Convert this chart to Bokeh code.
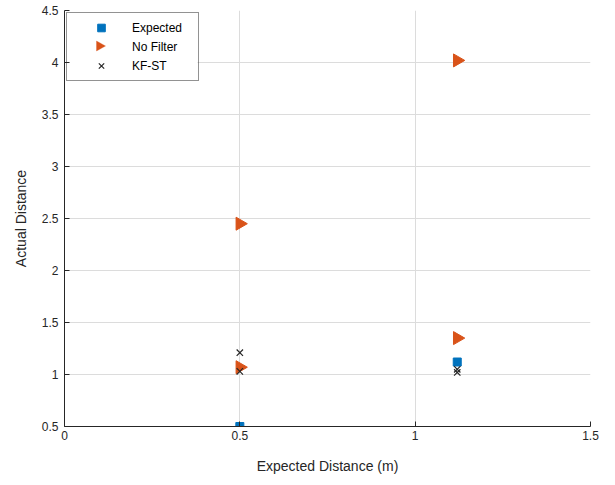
import math
from bokeh.plotting import figure
from bokeh.models import Range1d, FixedTicker, Legend, LegendItem, PolyAnnotation
from bokeh.embed import file_html
from bokeh.resources import INLINE

# Data
exp_x = [0.5, 1.12]
exp_y = [0.5, 1.12]
nf_x = [0.5, 0.5, 1.12, 1.12]
nf_y = [2.45, 1.07, 4.02, 1.35]
kf_x = [0.5, 0.5, 1.12, 1.12]
kf_y = [1.21, 1.03, 1.05, 1.02]

x_ticks = [0, 0.5, 1, 1.5]
y_ticks = [0.5, 1, 1.5, 2, 2.5, 3, 3.5, 4, 4.5]

FONT = "Liberation Sans"
BL, BT, BR, BB = 64, 10, 15, 54
FW, FH = 526, 416

p = figure(width=BL + FW + BR, height=BT + FH + BB, output_backend="svg", toolbar_location=None,
           x_range=Range1d(0, 1.5), y_range=Range1d(0.5, 4.5),
           min_border_left=BL, min_border_right=BR, min_border_top=BT, min_border_bottom=BB)
p.outline_line_color = None
p.background_fill_color = "white"
p.border_fill_color = "white"

for ax, ticks in ((p.xaxis[0], x_ticks), (p.yaxis[0], y_ticks)):
    ax.ticker = FixedTicker(ticks=ticks)
    ax.major_tick_in = 5
    ax.major_tick_out = 0
    ax.minor_tick_line_color = None
    ax.axis_line_color = "#262626"
    ax.major_tick_line_color = "#262626"
    ax.major_label_text_font = FONT
    ax.major_label_text_font_size = "12px"
    ax.major_label_text_color = "#262626"
    ax.axis_label_text_font = FONT
    ax.axis_label_text_font_size = "14px"
    ax.axis_label_text_font_style = "normal"
    ax.axis_label_text_color = "#262626"

p.xaxis.axis_label = "Expected Distance (m)"
p.yaxis.axis_label = "Actual Distance"
p.xaxis.major_label_overrides = {0: "0", 0.5: "0.5", 1: "1", 1.5: "1.5"}
p.yaxis.major_label_overrides = {0.5: "0.5", 1: "1", 1.5: "1.5", 2: "2", 2.5: "2.5", 3: "3",
                                 3.5: "3.5", 4: "4", 4.5: "4.5"}
p.xaxis.major_label_standoff = 4
p.yaxis.major_label_standoff = 6
p.xaxis.axis_label_standoff = 15
p.yaxis.axis_label_standoff = 10

p.grid.grid_line_color = "#dcdcdc"
p.grid.grid_line_alpha = 1.0

PAD, GW, ROWH, MARGIN, STANDOFF, LW = 5, 58, 19, 2, 2, 61
box_w = PAD + GW + STANDOFF + LW + PAD
box_h = 2 * PAD + 3 * ROWH

# white backing for the legend box (screen units are frame-relative, y measured from bottom)
backing = PolyAnnotation(xs=[MARGIN, MARGIN + box_w, MARGIN + box_w, MARGIN],
                         ys=[FH - MARGIN, FH - MARGIN, FH - MARGIN - box_h, FH - MARGIN - box_h],
                         xs_units="screen", ys_units="screen", level="underlay",
                         fill_color="white", fill_alpha=1.0, line_color=None)
p.add_layout(backing)

r_exp = p.scatter(exp_x, exp_y, marker="square", size=8, fill_color="#0072BD", line_color="#0072BD")
r_nf = p.scatter(nf_x, nf_y, marker="triangle", angle=-math.pi / 2, size=13,
                 fill_color="#D95319", line_color="#D95319")
r_kf = p.scatter(kf_x, kf_y, marker="x", size=9, line_color="#262626", line_width=1.2)
# invisible stand-in so the legend slot for "No Filter" is empty (legend ignores marker angle)
r_nf_leg = p.scatter([], [], marker="triangle", size=1, fill_alpha=0, line_alpha=0)

legend = Legend(items=[LegendItem(label="Expected", renderers=[r_exp]),
                       LegendItem(label="No Filter", renderers=[r_nf_leg]),
                       LegendItem(label="KF-ST", renderers=[r_kf])],
                location="top_left")
legend.label_text_font = FONT
legend.label_text_font_size = "12px"
legend.label_text_color = "#000000"
legend.border_line_color = "#262626"
legend.border_line_width = 1
legend.background_fill_alpha = 0.0
legend.margin = MARGIN
legend.padding = PAD
legend.spacing = 0
legend.glyph_width = GW
legend.glyph_height = ROWH
legend.label_height = ROWH
legend.label_standoff = STANDOFF
legend.label_width = LW
p.add_layout(legend)

# right-pointing triangle legend glyph
cx = MARGIN + PAD + GW / 2
cy = FH - (MARGIN + PAD + ROWH + ROWH / 2)
tri = PolyAnnotation(xs=[cx - 4, cx - 4, cx + 5], ys=[cy - 5, cy + 5, cy],
                     xs_units="screen", ys_units="screen",
                     fill_color="#D95319", fill_alpha=1.0, line_color="#D95319", line_width=1)
p.add_layout(tri)

open("out.html", "w").write(file_html(p, INLINE))
